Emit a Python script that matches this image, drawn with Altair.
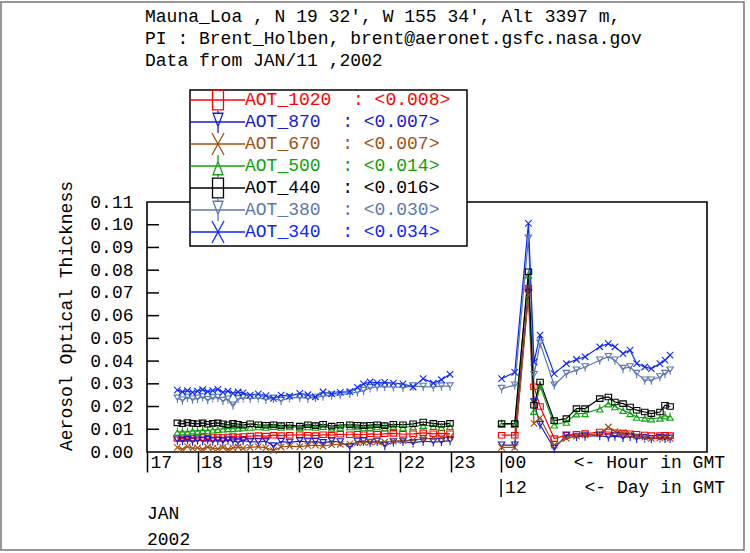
import altair as alt
import pandas as pd

# ---------------- data ----------------
series = ["AOT_1020", "AOT_870", "AOT_670", "AOT_500", "AOT_440", "AOT_380", "AOT_340"]
means = ["0.008", "0.007", "0.007", "0.014", "0.016", "0.030", "0.034"]
colors = ["#ff0000", "#1a1ad0", "#a0500f", "#10a010", "#000000", "#5a78b0", "#0a28ff"]

hours_seg1 = [17.60, 17.70, 17.80, 17.90, 18.00, 18.10, 18.20, 18.30, 18.40, 18.50,
              18.60, 18.70, 18.80, 18.90, 19.04, 19.20, 19.35, 19.50, 19.65, 19.82,
              20.02, 20.18, 20.33, 20.48, 20.65, 20.82, 21.01, 21.16, 21.28, 21.41,
              21.55, 21.70, 21.87, 22.06, 22.26, 22.46, 22.66, 22.82, 22.99]
hours_seg2 = [24.01, 24.27, 24.54, 24.65, 24.77, 25.05, 25.29, 25.49, 25.66, 25.95,
              26.12, 26.25, 26.41, 26.55, 26.68, 26.84, 26.97, 27.14, 27.24, 27.34]

aot1020_seg1 = [0.0060, 0.0058, 0.0062, 0.0060, 0.0062, 0.0064, 0.0060, 0.0064, 0.0066, 0.0064,
                0.0066, 0.0068, 0.0066, 0.0068, 0.0070, 0.0072, 0.0070, 0.0074, 0.0072, 0.0074,
                0.0076, 0.0074, 0.0072, 0.0076, 0.0074, 0.0078, 0.0076, 0.0078, 0.0076, 0.0080,
                0.0078, 0.0080, 0.0082, 0.0078, 0.0080, 0.0084, 0.0080, 0.0082, 0.0080]
aot870_seg1 = [0.0052, 0.0050, 0.0054, 0.0048, 0.0052, 0.0050, 0.0054, 0.0048, 0.0050, 0.0046,
               0.0052, 0.0048, 0.0044, 0.0050, 0.0046, 0.0044, 0.0048, 0.0026, 0.0046, 0.0042,
               0.0048, 0.0044, 0.0046, 0.0040, 0.0048, 0.0044, 0.0022, 0.0046, 0.0048, 0.0042,
               0.0046, 0.0028, 0.0044, 0.0046, 0.0040, 0.0048, 0.0044, 0.0046, 0.0050]
aot670_seg1 = [0.0020, 0.0012, 0.0024, 0.0016, 0.0018, 0.0012, 0.0022, 0.0016, 0.0014, 0.0020,
               0.0012, 0.0018, 0.0022, 0.0016, 0.0020, 0.0024, 0.0018, 0.0006, 0.0022, 0.0026,
               0.0024, 0.0028, 0.0030, 0.0026, 0.0032, 0.0034, 0.0036, 0.0040, 0.0042, 0.0044,
               0.0046, 0.0044, 0.0048, 0.0050, 0.0052, 0.0058, 0.0060, 0.0062, 0.0066]
aot500_seg1 = [0.0088, 0.0090, 0.0088, 0.0094, 0.0092, 0.0096, 0.0094, 0.0098, 0.0100, 0.0102,
               0.0104, 0.0104, 0.0106, 0.0108, 0.0110, 0.0112, 0.0110, 0.0114, 0.0110, 0.0112,
               0.0108, 0.0112, 0.0110, 0.0114, 0.0106, 0.0110, 0.0112, 0.0112, 0.0108, 0.0110,
               0.0112, 0.0108, 0.0114, 0.0110, 0.0112, 0.0118, 0.0114, 0.0110, 0.0114]
aot440_seg1 = [0.0128, 0.0124, 0.0130, 0.0126, 0.0124, 0.0128, 0.0122, 0.0126, 0.0128, 0.0124,
               0.0120, 0.0126, 0.0122, 0.0118, 0.0124, 0.0120, 0.0118, 0.0120, 0.0116, 0.0118,
               0.0114, 0.0120, 0.0116, 0.0122, 0.0114, 0.0118, 0.0120, 0.0118, 0.0116, 0.0118,
               0.0120, 0.0116, 0.0122, 0.0120, 0.0124, 0.0132, 0.0126, 0.0122, 0.0126]
aot380_seg1 = [0.0236, 0.0228, 0.0240, 0.0232, 0.0236, 0.0242, 0.0230, 0.0238, 0.0240, 0.0226,
               0.0232, 0.0206, 0.0234, 0.0238, 0.0236, 0.0238, 0.0232, 0.0236, 0.0226, 0.0238,
               0.0240, 0.0236, 0.0240, 0.0246, 0.0250, 0.0252, 0.0258, 0.0264, 0.0270, 0.0282,
               0.0286, 0.0288, 0.0286, 0.0284, 0.0290, 0.0288, 0.0286, 0.0290, 0.0290]
aot340_seg1 = [0.0272, 0.0265, 0.0270, 0.0262, 0.0268, 0.0274, 0.0266, 0.0270, 0.0276, 0.0262,
               0.0268, 0.0258, 0.0264, 0.0260, 0.0250, 0.0256, 0.0248, 0.0236, 0.0250, 0.0246,
               0.0258, 0.0252, 0.0243, 0.0264, 0.0256, 0.0262, 0.0266, 0.0284, 0.0300, 0.0308,
               0.0304, 0.0306, 0.0303, 0.0300, 0.0286, 0.0323, 0.0303, 0.0318, 0.0342]

aot1020_seg2 = [0.0074, 0.0074, 0.0720, 0.0287, 0.0200, 0.0059, 0.0074, 0.0078, 0.0081, 0.0088,
                0.0088, 0.0085, 0.0083, 0.0080, 0.0078, 0.0075, 0.0072, 0.0072, 0.0074, 0.0072]
aot870_seg2 = [0.0030, 0.0030, 0.0700, 0.0220, 0.0120, 0.0015, 0.0074, 0.0068, 0.0070, 0.0072,
               0.0066, 0.0070, 0.0064, 0.0068, 0.0060, 0.0062, 0.0058, 0.0062, 0.0060, 0.0060]
aot670_seg2 = [0.0020, 0.0020, 0.0690, 0.0126, 0.0150, 0.0030, 0.0060, 0.0070, 0.0075, 0.0080,
               0.0110, 0.0090, 0.0085, 0.0080, 0.0070, 0.0065, 0.0060, 0.0062, 0.0064, 0.0060]
aot500_seg2 = [0.0122, 0.0122, 0.0780, 0.0180, 0.0290, 0.0120, 0.0132, 0.0169, 0.0170, 0.0190,
               0.0213, 0.0200, 0.0184, 0.0170, 0.0154, 0.0150, 0.0147, 0.0150, 0.0160, 0.0154]
aot440_seg2 = [0.0125, 0.0125, 0.0793, 0.0206, 0.0308, 0.0138, 0.0147, 0.0191, 0.0191, 0.0235,
               0.0242, 0.0220, 0.0213, 0.0198, 0.0184, 0.0176, 0.0169, 0.0176, 0.0206, 0.0200]
aot380_seg2 = [0.0279, 0.0294, 0.0940, 0.0340, 0.0478, 0.0294, 0.0345, 0.0360, 0.0374, 0.0404,
               0.0419, 0.0404, 0.0367, 0.0374, 0.0345, 0.0316, 0.0316, 0.0330, 0.0345, 0.0360]
aot340_seg2 = [0.0323, 0.0350, 0.1006, 0.0396, 0.0514, 0.0345, 0.0389, 0.0407, 0.0419, 0.0463,
               0.0477, 0.0463, 0.0433, 0.0448, 0.0389, 0.0374, 0.0367, 0.0389, 0.0404, 0.0426]

y_ticks = [0.00, 0.01, 0.02, 0.03, 0.04, 0.05, 0.06, 0.07, 0.08, 0.09, 0.10, 0.11]
x_ticks = [17, 18, 19, 20, 21, 22, 23, 24]

title_lines = ["Mauna_Loa , N 19 32', W 155 34', Alt 3397 m,",
               "PI : Brent_Holben, brent@aeronet.gsfc.nasa.gov",
               "Data from JAN/11 ,2002"]

# ---------------- tables ----------------
seg1_vals = [aot1020_seg1, aot870_seg1, aot670_seg1, aot500_seg1, aot440_seg1, aot380_seg1, aot340_seg1]
seg2_vals = [aot1020_seg2, aot870_seg2, aot670_seg2, aot500_seg2, aot440_seg2, aot380_seg2, aot340_seg2]
rows = []
for k, name in enumerate(series):
    for t, v in zip(hours_seg1, seg1_vals[k]):
        rows.append({"t": t, "v": v, "series": name, "seg": 1, "k": k})
    for t, v in zip(hours_seg2, seg2_vals[k]):
        rows.append({"t": t, "v": v, "series": name, "seg": 2, "k": k})
df = pd.DataFrame(rows)

NB = "\u00a0"
leg = pd.DataFrame({"series": series, "mean": means, "i": list(range(len(series)))})
leg["label"] = [f"{s}{NB}{NB}:{NB}<{m}>" for s, m in zip(series, means)]

FONT = "Liberation Mono"
FS = 18
W, H = 560, 250

one = pd.DataFrame({"a": [0]})

xscale = alt.Scale(domain=[17, 28.07], nice=False, zero=False)
yscale = alt.Scale(domain=[0, 0.11], nice=False, zero=True)
color = alt.Color("series:N", scale=alt.Scale(domain=series, range=colors), legend=None)

x_axis = alt.Axis(values=x_ticks, title=None, grid=False, domain=False,
                  tickSize=20, tickWidth=1.5, tickColor="black",
                  labelExpr="(datum.value % 24 < 10 ? '0' : '') + (datum.value % 24)",
                  labelAlign="left", labelBaseline="middle", labelPadding=-10,
                  labelOffset=3, labelOverlap=False, labelFlush=False)
y_axis = alt.Axis(values=y_ticks, format=".2f", title=None, grid=False, domain=False,
                  ticks=False, labelPadding=14, labelOverlap=False, labelFlush=False,
                  labelBound=False, labelSeparation=0)

plot_paths = [
    "M-1,-0.85H1V0.85H-1Z",
    "M-1,-1H1L0,0.6Z M0,0.6V1.4",
    "M-1,-1L1,1M-1,1L1,-1",
    "M0,-1.4V-0.6 M0,-0.6L1,1H-1Z",
    "M-1,-0.85H1V0.85H-1Z",
    "M-1,-1H1L0,0.6Z M0,0.6V1.4",
    "M-1,-1L1,1M-1,1L1,-1",
]
legend_paths = [
    "M-0.5,-0.9H0.5V0.9H-0.5Z",
    "M0,-1V-0.8 M-0.45,-0.8H0.45L0,0.4Z M0,0.4V1",
    "M-0.55,-1L0.55,1M-0.55,1L0.55,-1",
    "M0,-1V-0.4 M0,-0.4L0.45,0.8H-0.45Z M0,0.8V1",
    "M-0.5,-0.9H0.5V0.9H-0.5Z",
    "M0,-1V-0.8 M-0.45,-0.8H0.45L0,0.4Z M0,0.4V1",
    "M-0.55,-1L0.55,1M-0.55,1L0.55,-1",
]

# frame of the plot area
frame = alt.Chart(one).mark_rect(fill="white", stroke="black", strokeWidth=1.6).encode(
    x=alt.value(0), x2=alt.value(W), y=alt.value(0), y2=alt.value(H))

# outer border of the picture
border = alt.Chart(one).mark_rect(fill=None, stroke="#777777", strokeWidth=1.5).encode(
    x=alt.value(-146), x2=alt.value(597), y=alt.value(-200), y2=alt.value(348))

base = alt.Chart(df).encode(
    x=alt.X("t:Q", scale=xscale, axis=x_axis),
    y=alt.Y("v:Q", scale=yscale, axis=y_axis),
    color=color,
)

lines = base.mark_line(strokeWidth=1.2).encode(detail="seg:N", order="t:Q")
points = base.mark_point(filled=False, strokeWidth=1.1, size=42, opacity=1).encode(
    shape=alt.Shape("series:N", scale=alt.Scale(domain=series, range=plot_paths), legend=None))

ytick_df = pd.DataFrame({"v": y_ticks[1:-1]})
yticks = alt.Chart(ytick_df).mark_rule(color="black", strokeWidth=1.5).encode(
    y=alt.Y("v:Q", scale=yscale, axis=y_axis), x=alt.value(0), x2=alt.value(12))

day_df = pd.DataFrame({"t": [24], "lab": ["12"]})
day_tick = alt.Chart(day_df).mark_rule(color="black", strokeWidth=1.5).encode(
    x=alt.X("t:Q", scale=xscale, axis=x_axis), y=alt.value(277), y2=alt.value(295))
day_lab = alt.Chart(day_df).mark_text(align="left", baseline="middle", dx=4, font=FONT,
                                      fontSize=FS, color="black").encode(
    x=alt.X("t:Q", scale=xscale, axis=x_axis), y=alt.value(286), text="lab:N")

# legend box
lbox = alt.Chart(one).mark_rect(fill="white", stroke="black", strokeWidth=1.5).encode(
    x=alt.value(43), x2=alt.value(320), y=alt.value(-112), y2=alt.value(44))
lbase = alt.Chart(leg).transform_calculate(ly="-102 + 22 * datum.i").encode(
    y=alt.Y("ly:Q", scale=None), color=color)
llines = lbase.mark_rule(strokeWidth=1.3).encode(x=alt.value(43), x2=alt.value(98))
lsyms = lbase.mark_point(filled=False, strokeWidth=1.3, size=480, opacity=1).encode(
    x=alt.value(71),
    shape=alt.Shape("series:N", scale=alt.Scale(domain=series, range=legend_paths), legend=None))
ltext = lbase.mark_text(align="left", baseline="middle", font=FONT, fontSize=FS).encode(
    x=alt.value(98), text="label:N")


def txt(s, x, y, align="left", angle=0):
    return alt.Chart(one).mark_text(align=align, baseline="middle", font=FONT, fontSize=FS,
                                    color="black", angle=angle).encode(
        x=alt.value(x), y=alt.value(y), text=alt.value(s))


annots = [
    txt(title_lines[0], -2, -185),
    txt(title_lines[1], -2, -163),
    txt(title_lines[2], -2, -141),
    txt("Aerosol Optical Thickness", -80, 114, align="center", angle=270),
    txt("<- Hour in GMT", 578, 261, align="right"),
    txt("<- Day in GMT", 578, 286, align="right"),
    txt("JAN", 0, 312),
    txt("2002", 0, 338),
]

chart = alt.layer(
    border, frame, yticks, lines, points, day_tick, day_lab,
    lbox, llines, lsyms, ltext, *annots
).resolve_scale(shape="independent").properties(
    width=W, height=H,
    autosize=alt.AutoSizeParams(type="none"),
    padding={"left": 147, "top": 202, "right": 43, "bottom": 101},
    background="white",
).configure_view(stroke=None).configure_axis(
    labelFont=FONT, labelFontSize=FS, labelColor="black"
).configure_axisY(labelOverlap=False)

chart.save("out.html", embed_options={"renderer": "svg", "actions": False})
